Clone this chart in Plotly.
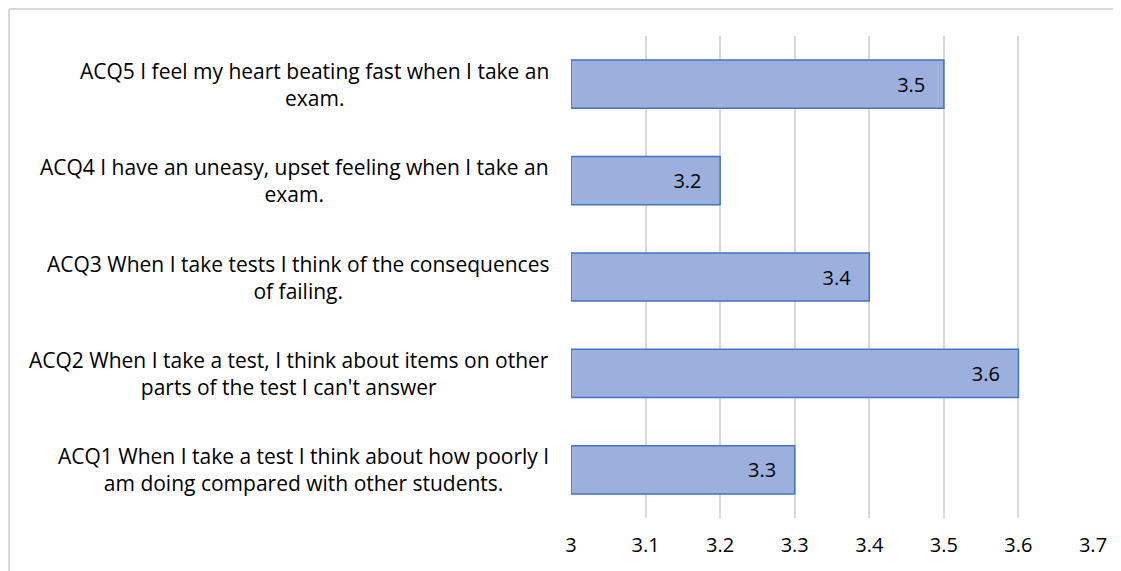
import plotly.graph_objects as go

# data (bottom to top, as drawn)
questions = [
    "ACQ1 When I take a test I think about how poorly I<br>am doing compared with other students.",
    "ACQ2 When I take a test, I think about items on other<br>parts of the test I can't answer",
    "ACQ3 When I take tests I think of the consequences<br>of failing.",
    "ACQ4 I have an uneasy, upset feeling when I take an<br>exam.",
    "ACQ5 I feel my heart beating fast when I take an<br>exam.",
]
scores = [3.3, 3.6, 3.4, 3.2, 3.5]
axis_min = 3.0
axis_max = 3.7
tick_vals = [3, 3.1, 3.2, 3.3, 3.4, 3.5, 3.6, 3.7]
tick_text = ["3", "3.1", "3.2", "3.3", "3.4", "3.5", "3.6", "3.7"]

FONT = "Open Sans, Liberation Sans, sans-serif"
W, H = 1121, 571
# the page body adds an 8px offset, so margins are measured from there
L, R, T, B = 563, 36, 28, 61
plot_w = W - L - R
plot_h = H - T - B

fig = go.Figure()

fig.add_trace(
    go.Bar(
        y=list(range(len(questions))),
        x=[s - axis_min for s in scores],
        base=axis_min,
        orientation="h",
        width=0.5,
        marker=dict(color="#9cb0de", line=dict(color="#4472c4", width=1.5)),
        text=[f"{s:g}\u00a0\u00a0\u00a0" for s in scores],
        textposition="inside",
        insidetextanchor="end",
        textfont=dict(size=20, color="#000000", family=FONT),
        hoverinfo="skip",
        showlegend=False,
    )
)

# category labels, centred multi-line like the original
for i, q in enumerate(questions):
    fig.add_annotation(
        x=(543 - L) / plot_w,
        xref="paper",
        xanchor="right",
        y=i,
        yref="y",
        yanchor="middle",
        text=q,
        align="center",
        showarrow=False,
        font=dict(size=21, color="#000000", family=FONT),
    )

# chart frame (only top and left edges fall inside the window)
fx = (1 - L) / plot_w
fy = 1 + (T - 1) / plot_h
fig.add_shape(type="line", xref="paper", yref="paper", x0=fx, x1=2, y0=fy, y1=fy,
              line=dict(color="#d9d9d9", width=2))
fig.add_shape(type="line", xref="paper", yref="paper", x0=fx, x1=fx, y0=fy, y1=-1,
              line=dict(color="#d9d9d9", width=2))

fig.update_layout(
    width=W,
    height=H,
    margin=dict(l=L, r=R, t=T, b=B),
    plot_bgcolor="#ffffff",
    paper_bgcolor="#ffffff",
    bargap=0.5,
)
fig.update_xaxes(
    range=[axis_min, axis_max],
    tickvals=tick_vals,
    ticktext=tick_text,
    showgrid=True,
    gridcolor="#d9d9d9",
    gridwidth=1.5,
    zeroline=False,
    showline=False,
    ticks="",
    ticklabelstandoff=13,
    tickfont=dict(size=20, color="#000000", family=FONT),
)
fig.update_yaxes(
    range=[-0.5, len(questions) - 0.5],
    showticklabels=False,
    showgrid=False,
    zeroline=False,
    showline=False,
)

fig.write_html("out.html")
